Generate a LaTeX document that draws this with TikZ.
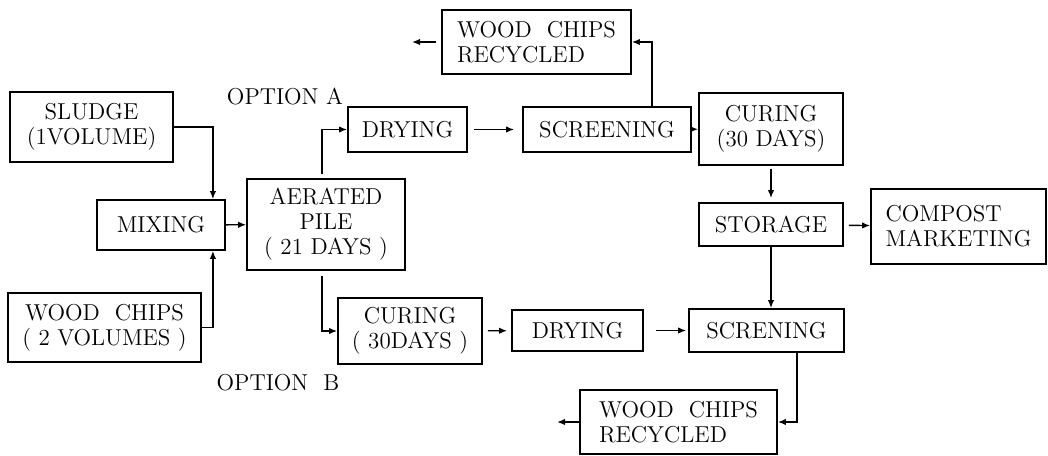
\documentclass[tikz,border=0pt]{standalone}
\usetikzlibrary{arrows.meta}
\begin{document}
\begin{tikzpicture}[x=0.5pt,y=-0.5pt,
  every node/.style={font=\fontsize{11.5}{12.5}\selectfont},
  caja/.style={draw=black,line width=0.9pt,inner sep=0pt,align=center},
  flecha/.style={line width=0.7pt,-{Latex[length=4pt,width=3.2pt]}}]
  \useasboundingbox (0,0) rectangle (1048,455);

  % Entradas y mezcla
  \node[caja,minimum width=81.5pt,minimum height=35pt] (sludge) at (91.5,127) {SLUDGE\\(1VOLUME)};
  \node[caja,minimum width=64pt,minimum height=25pt] (mixing) at (161,225) {MIXING};
  \node[caja,minimum width=96.5pt,minimum height=34.5pt] (wood) at (104.5,327.5) {WOOD\ \ CHIPS\\( 2 VOLUMES )};
  \node[caja,minimum width=79pt,minimum height=45.5pt] (pile) at (326,224.5) {AERATED\\PILE\\( 21 DAYS )};

  % Opcion A (arriba)
  \node (optA) at (285,97) {OPTION A};
  \node[caja,minimum width=59.5pt,minimum height=22.5pt] (dryA) at (407.5,129.5) {DRYING};
  \node[caja,minimum width=84pt,minimum height=22.5pt] (screenA) at (607,129.5) {SCREENING};
  \node[caja,align=left,minimum width=94.5pt,minimum height=32pt] (recycA) at (536.5,42) {WOOD\ \ CHIPS\\RECYCLED};
  \node[caja,minimum width=72pt,minimum height=36pt] (curA) at (771,129) {CURING\\(30 DAYS)};
  \node[caja,minimum width=72pt,minimum height=21.5pt] (storage) at (771,224.5) {STORAGE};
  \node[caja,align=left,minimum width=87.5pt,minimum height=37.5pt] (compost) at (958.5,226.5) {COMPOST\\MARKETING};

  % Opcion B (abajo)
  \node (optB) at (278,383) {OPTION\ \ B};
  \node[caja,minimum width=72pt,minimum height=33pt] (curB) at (410,331) {CURING\\( 30DAYS )};
  \node[caja,minimum width=65.5pt,minimum height=20.5pt] (dryB) at (577.5,330.5) {DRYING};
  \node[caja,minimum width=77.5pt,minimum height=21.5pt] (screenB) at (766.5,330.5) {SCRENING};
  \node[caja,align=left,minimum width=98.5pt,minimum height=32pt] (recycB) at (678.5,422) {WOOD\ \ CHIPS\\RECYCLED};

  % Salidas libres
  \coordinate (outA) at (412,42);
  \coordinate (outB) at (557,422);

  % Flechas rectas
  \foreach \from/\to/\a/\b in {mixing/pile/0/0, dryA/screenA/3/4, screenA/curA/0/0,
      curA/storage/1.5/2, storage/compost/2.5/0, curB/dryB/2.5/2, dryB/screenB/6/1}
    \draw[flecha,shorten <=\a pt,shorten >=\b pt] (\from) -- (\to);

  % Flechas con codo
  \draw[flecha] (sludge.east) -| ([xshift=-6.5pt]mixing.north east);
  \draw[flecha] (wood.east) -| ([xshift=-6.5pt]mixing.south east);
  \draw[flecha,shorten <=2pt] ([xshift=-2pt]pile.north) |- (dryA.west);
  \draw[flecha,shorten <=2.5pt] ([xshift=-2pt]pile.south) |- (curB.west);
  \draw[flecha] ([xshift=22.5pt]screenA.north) |- (recycA.east);
  \draw[flecha] (storage.south) -- (storage.south |- screenB.north);
  \draw[flecha] ([xshift=15.25pt]screenB.south) |- (recycB.east);
  \draw[flecha,shorten <=2.5pt] (recycA.west) -- (outA);
  \draw[flecha] (recycB.west) -- (outB);
\end{tikzpicture}
\end{document}
